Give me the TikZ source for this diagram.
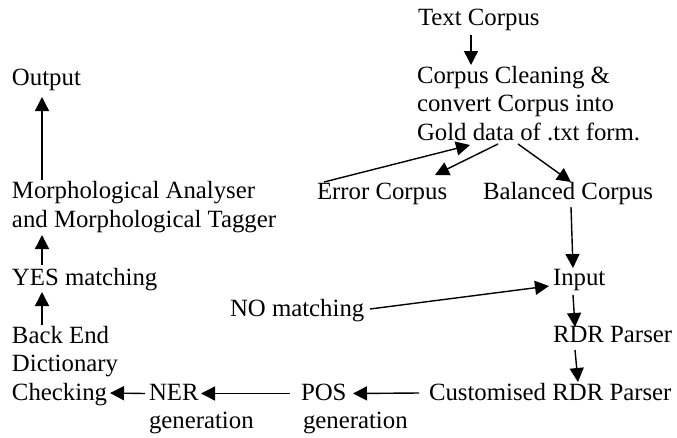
\documentclass[tikz,border=0pt]{standalone}
\usepackage{fontspec}
\setmainfont{Liberation Serif}
\usetikzlibrary{arrows.meta}
\tikzset{
  txt/.style={inner sep=0pt, outer sep=0pt, anchor=base west, align=left,
    font=\fontsize{24.8pt}{28.5pt}\selectfont},
  arr/.style={-{Triangle[length=14pt,width=14pt]}, line width=1.4pt}
}
\begin{document}
\begin{tikzpicture}[x=1pt,y=-1pt]
\useasboundingbox (0,0) rectangle (677,437);
% nodes (anchor = baseline of the last line)
\node[txt] (tc) at (418,25) {Text Corpus};
\node[txt] (cc) at (417,140) {Corpus Cleaning \&\\convert Corpus into\\Gold data of .txt form.};
\node[txt] (out) at (12,85) {Output};
\node[txt] (ma) at (12,227) {Morphological Analyser\\and Morphological Tagger};
\node[txt] (ec) at (317,199) {Error Corpus};
\node[txt] (bc) at (483,199) {Balanced Corpus};
\node[txt] (in) at (553,285) {Input};
\node[txt] (yes) at (12,285) {YES matching};
\node[txt] (no) at (230,316) {NO matching};
\node[txt] (rdr) at (553,342) {RDR Parser};
\node[txt] (be) at (12,400) {Back End\\Dictionary\\Checking};
\node[txt] (crdr) at (429,400) {Customised RDR Parser};
\node[txt] (pos) at (301,428.5) {POS\\\hspace*{2pt}generation};
\node[txt] (ner) at (149,428.5) {NER\\generation};
% connectors
\draw[arr] ([shift={(53,10)}]tc.base west) -- ([shift={(54,-75)}]cc.base west);
\draw[arr] ([shift={(7,-17)}]ec.base west) -- ([shift={(53,5)}]cc.base west);
\draw[arr] ([shift={(81,4)}]cc.base west) -- ([shift={(118,-24)}]ec.base west);
\draw[arr] ([shift={(101,4)}]cc.base west) -- ([shift={(88,-17)}]bc.base west);
\draw[arr] ([shift={(88,8)}]bc.base west) -- ([shift={(20,-17)}]in.base west);
\draw[arr] ([shift={(140,-7)}]no.base west) -- ([shift={(-4,1)}]in.base west);
\draw[arr] ([shift={(20,10)}]in.base west) -- ([shift={(22,-15)}]rdr.base west);
\draw[arr] ([shift={(22,8)}]rdr.base west) -- ([shift={(149,-18)}]crdr.base west);
\draw[arr] ([shift={(-10,-7)}]crdr.base west) -- ([shift={(52,-35)}]pos.base west);
\draw[arr] ([shift={(-11,-35)}]pos.base west) -- ([shift={(52,-35)}]ner.base west);
\draw[arr] ([shift={(-4,-35)}]ner.base west) -- ([shift={(98,-7)}]be.base west);
\draw[arr] ([shift={(30,-75)}]be.base west) -- ([shift={(30,7)}]yes.base west);
\draw[arr] ([shift={(30,-20)}]yes.base west) -- ([shift={(30,8)}]ma.base west);
\draw[arr] ([shift={(30,-47)}]ma.base west) -- ([shift={(30,12)}]out.base west);
\end{tikzpicture}
\end{document}
